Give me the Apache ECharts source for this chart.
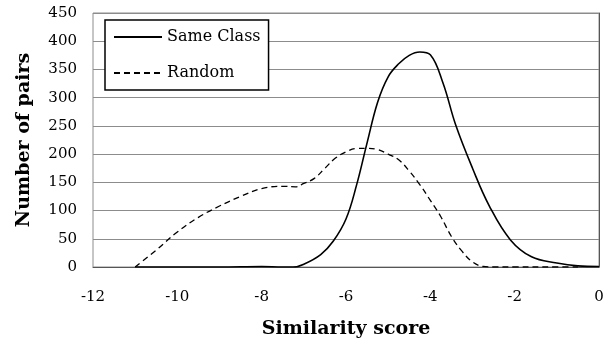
<!DOCTYPE html>
<html>
<head>
<meta charset="utf-8">
<script src="https://cdn.jsdelivr.net/npm/echarts@6/dist/echarts.min.js"></script>
<style>
  html, body { margin: 0; padding: 0; background: #fff; }
  #chart { width: 615px; height: 351px; }
</style>
</head>
<body>
<div id="chart"></div>
<script>
// values
const sameClassX = [-11, -10, -9, -8, -7.5, -7.25, -7, -6.6, -6.3, -6, -5.75, -5.5, -5.25, -5, -4.75, -4.5, -4.25, -4, -3.7, -3.4, -3, -2.6, -2.1, -1.6, -1, -0.5, 0];
const sameClassY = [0, 0, 0, 1, 0, 0, 5, 22, 46, 85, 145, 220, 292, 337, 360, 375, 381, 376, 326, 252, 175, 108, 48, 18, 7, 2, 1];
const randomX = [-11, -10.5, -10, -9.5, -9, -8.5, -8, -7.5, -7.2, -7, -6.75, -6.5, -6.25, -6, -5.75, -5.5, -5.25, -5, -4.75, -4.5, -4.25, -4, -3.75, -3.5, -3.25, -3, -2.75, -2.5, -2, -1, -0.5];
const randomY = [0, 30, 62, 88, 108, 125, 139, 143, 142, 148, 157, 175, 193, 204, 210, 210, 208, 200, 190, 170, 146, 118, 89, 54, 28, 9, 1, 0, 0, 0, 0];
const xTicks = { min: -12, max: 0, interval: 2 };
const yTicks = { min: 0, max: 450, interval: 50 };

const font = "'DejaVu Serif', 'Liberation Serif', serif";
const zip = (xs, ys) => xs.map((x, i) => [x, ys[i]]);

const chart = echarts.init(document.getElementById('chart'));
chart.setOption({
  animation: false,
  textStyle: { fontFamily: font },
  grid: {
    left: 93, right: 16, top: 13, bottom: 84,
    show: true, borderColor: '#8c8c8c', borderWidth: 1,
  },
  legend: {
    left: 105, top: 20,
    orient: 'vertical',
    backgroundColor: '#fff',
    borderColor: '#000', borderWidth: 1.5,
    padding: [9, 8, 9, 8],
    itemWidth: 48, itemHeight: 14, itemGap: 20,
    itemStyle: { color: 'transparent', borderWidth: 0 },
    textStyle: { fontFamily: font, fontSize: 16, color: '#000' },
    data: ['Same Class', 'Random'],
  },
  xAxis: {
    type: 'value',
    min: xTicks.min, max: xTicks.max, interval: xTicks.interval,
    name: 'Similarity score',
    nameLocation: 'middle',
    nameGap: 53,
    nameTextStyle: { fontFamily: font, fontSize: 19, fontWeight: 'bold', color: '#000' },
    axisLine: { lineStyle: { color: '#555', width: 1 } },
    axisTick: { show: false },
    splitLine: { show: false },
    axisLabel: { color: '#000', fontSize: 15, margin: 23 },
  },
  yAxis: {
    type: 'value',
    min: yTicks.min, max: yTicks.max, interval: yTicks.interval,
    name: 'Number of pairs',
    nameLocation: 'middle',
    nameGap: 59,
    nameTextStyle: { fontFamily: font, fontSize: 19, fontWeight: 'bold', color: '#000' },
    axisLine: { show: true, lineStyle: { color: '#555', width: 1 } },
    axisTick: { show: false },
    splitLine: { lineStyle: { color: '#8c8c8c', width: 1 } },
    axisLabel: { color: '#000', fontSize: 15, margin: 16 },
  },
  series: [
    {
      name: 'Same Class',
      type: 'line',
      smooth: 0.4,
      symbol: 'none',
      lineStyle: { color: '#000', width: 1.6, type: 'solid' },
      itemStyle: { color: '#000' },
      data: zip(sameClassX, sameClassY),
    },
    {
      name: 'Random',
      type: 'line',
      smooth: 0.4,
      symbol: 'none',
      lineStyle: { color: '#000', width: 1.3, type: [6, 4] },
      itemStyle: { color: '#000' },
      data: zip(randomX, randomY),
    },
  ],
});
</script>
</body>
</html>
